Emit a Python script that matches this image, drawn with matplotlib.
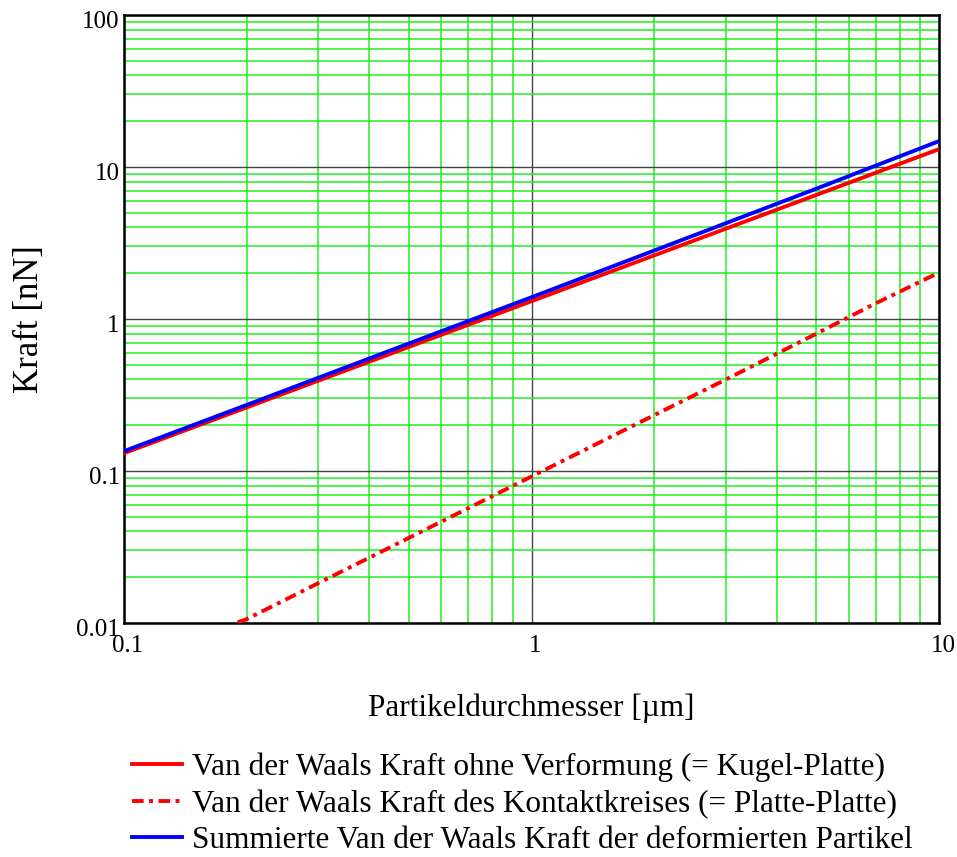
import numpy as np
import matplotlib.pyplot as plt
import matplotlib.transforms as mtransforms
from matplotlib.ticker import FixedLocator, FuncFormatter, LogLocator, NullFormatter

plt.rcParams['font.family'] = ['Liberation Serif', 'DejaVu Serif']

# particle diameter [um]
d = [0.1, 0.2, 0.5, 1.0, 2.0, 5.0, 10.0]
# force without deformation (sphere-plate) [nN]
f_sphere = [0.131, 0.262, 0.655, 1.31, 2.62, 6.55, 13.1]
# summed force of deformed particle [nN]
f_sum = [0.135, 0.272, 0.69, 1.39, 2.82, 7.2, 14.8]
# contact circle (plate-plate)
d_contact = [0.19, 0.2, 0.3, 0.5, 1.0, 2.0, 3.0, 5.0, 7.0, 10.0]
f_contact = [0.0101, 0.0106, 0.0183, 0.0363, 0.092, 0.233, 0.40, 0.80, 1.27, 2.02]

labels = ["Van der Waals Kraft ohne Verformung (= Kugel-Platte)",
          "Van der Waals Kraft des Kontaktkreises (= Platte-Platte)",
          "Summierte Van der Waals Kraft der deformierten Partikel"]

fig = plt.figure(figsize=(9.57, 8.57), dpi=100)
ax = fig.add_axes([124/957, 1-623/857, (939-124)/957, (623-15)/857])

ax.set_xscale('log')
ax.set_yscale('log')
ax.set_xlim(0.1, 10)
ax.set_ylim(0.01, 100)

l1, = ax.plot(d, f_sphere, color='red', lw=2.8, zorder=3)
l2, = ax.plot(d_contact, f_contact, color='red', lw=2.8, dashes=(3, 1.4, 1, 1.4), zorder=3)
l3, = ax.plot(d, f_sum, color='blue', lw=2.8, zorder=4)

ax.xaxis.set_major_locator(FixedLocator([0.1, 1, 10]))
ax.yaxis.set_major_locator(FixedLocator([0.01, 0.1, 1, 10, 100]))
ax.xaxis.set_minor_locator(LogLocator(base=10, subs=np.arange(2, 10)))
ax.yaxis.set_minor_locator(LogLocator(base=10, subs=np.arange(2, 10)))
ax.xaxis.set_minor_formatter(NullFormatter())
ax.yaxis.set_minor_formatter(NullFormatter())
fmt = FuncFormatter(lambda v, p: ('%g' % v))
ax.xaxis.set_major_formatter(fmt)
ax.yaxis.set_major_formatter(fmt)

ax.grid(which='minor', color='#22ee22', lw=1.1, zorder=1)
ax.grid(which='major', color='#444444', lw=1.0, zorder=2)
ax.set_axisbelow(True)
ax.tick_params(which='both', length=0, labelsize=18)
ax.tick_params(axis='x', pad=9)
ax.tick_params(axis='y', pad=3)
for s in ax.spines.values():
    s.set_linewidth(1.8)

# shift tick labels a little, as in the original
dx = mtransforms.ScaledTranslation(4/100, 0, fig.dpi_scale_trans)
dy = mtransforms.ScaledTranslation(0, -5/100, fig.dpi_scale_trans)
for t in ax.get_xticklabels():
    t.set_transform(t.get_transform() + dx)
for t in ax.get_yticklabels():
    t.set_transform(t.get_transform() + dy)

ax.set_xlabel("Partikeldurchmesser [\u00b5m]", fontsize=22.5, labelpad=26)
ax.set_ylabel("Kraft [nN]", fontsize=25, labelpad=22)

fig.legend([l1, l2, l3], labels, loc='upper left', bbox_to_anchor=(116/957, 1-737/857),
           frameon=False, fontsize=22.5, handlelength=1.6, handletextpad=0.33,
           labelspacing=0.24, borderpad=0)

fig.savefig('out.png', dpi=100)
